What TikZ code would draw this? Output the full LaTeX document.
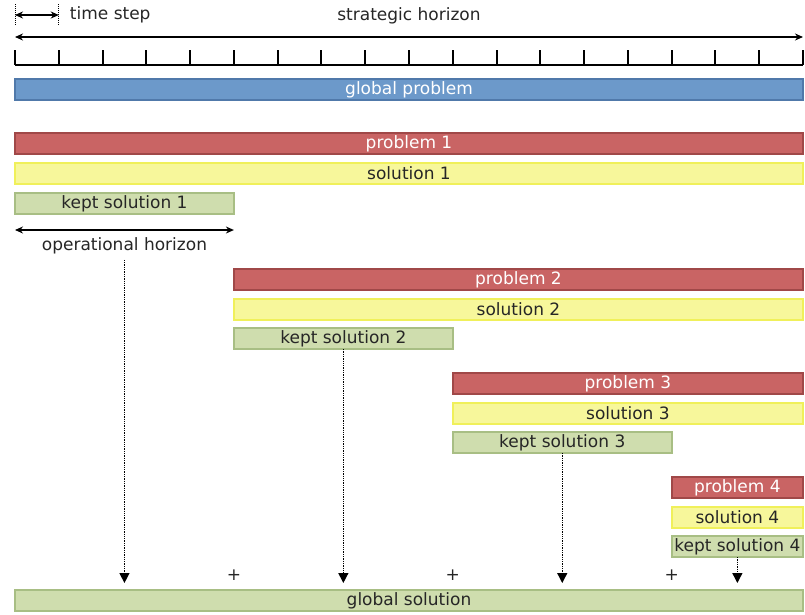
\documentclass[tikz,border=0pt]{standalone}
\usepackage{fontspec}
\setmainfont{DejaVu Sans}
\usepackage{tikz}
\usetikzlibrary{arrows.meta, positioning}
\definecolor{gpfill}{RGB}{108,153,202}
\definecolor{gpborder}{RGB}{80,121,170}
\definecolor{prfill}{RGB}{201,100,100}
\definecolor{prborder}{RGB}{160,72,72}
\definecolor{sofill}{RGB}{247,247,155}
\definecolor{soborder}{RGB}{240,240,90}
\definecolor{kefill}{RGB}{207,221,174}
\definecolor{keborder}{RGB}{168,190,132}
\def\tstep{43.78}

\begin{document}
\begin{tikzpicture}[x=1pt, y=-1pt,
  node distance=9pt,
  bar/.style={rectangle, line width=1.8pt, minimum height=21pt, inner sep=0pt, outer sep=0pt,
              font=\fontsize{17}{20}\selectfont},
  globbar/.style={bar, draw=gpborder, fill=gpfill, text=white},
  probbar/.style={bar, draw=prborder, fill=prfill, text=white},
  solbar/.style={bar, draw=soborder, fill=sofill, text=black!85},
  keptbar/.style={bar, draw=keborder, fill=kefill, text=black!85},
  lbl/.style={font=\fontsize{17}{20}\selectfont, inner sep=0pt, text=black!85},
  dim/.style={{Stealth[length=8pt,width=7pt]}-{Stealth[length=8pt,width=7pt]}, line width=1.2pt},
  feed/.style={-{Triangle[length=10pt,width=10pt]}, densely dotted, line width=1.3pt}
]
\useasboundingbox (0,0) rectangle (805,614);

% time axis
\coordinate (ts0) at (15,15);
\coordinate (ts1) at ({15+\tstep},15);
\draw[densely dotted, line width=1pt] (15,4) -- (15,26) ({15+\tstep},4) -- ({15+\tstep},26);
\draw[dim] (ts0) -- (ts1);
\node[lbl, anchor=west, right=11pt of ts1] (tsl) {time step};
\coordinate (hl) at (15,37);
\coordinate (hr) at (803,37);
\draw[dim] (hl) -- (hr);
\node[lbl] (hlbl) at (409,16) {strategic horizon};
\draw[line width=2.5pt] (15,65) -- (803,65);
\foreach \i in {0,...,18}
  \draw[line width=2pt] ({15+\i*\tstep},50) -- ({15+\i*\tstep},65);

\node[globbar, minimum width=788pt] (gp) at (409,89.5) {global problem};

% receding horizon
\node[probbar, minimum width=788pt] (p1) at (409,143.5) {problem 1};
\node[solbar, minimum width=788pt, below=of p1] (s1) {solution 1};
\node[keptbar, minimum width={5*\tstep}, anchor=north west] (k1) at ([yshift=-9pt]s1.south west) {kept solution 1};
\coordinate (oh0) at ([yshift=-16pt]k1.south west);
\coordinate (oh1) at ([yshift=-16pt]k1.south east);
\draw[dim] (oh0) -- (oh1);
\node[lbl, below=6pt of k1.south, yshift=-17pt] (ohl) {operational horizon};

\node[probbar, minimum width={13*\tstep}, anchor=north west] (p2) at ([yshift=-55pt]k1.south east) {problem 2};
\node[solbar, minimum width={13*\tstep}, below=of p2] (s2) {solution 2};
\node[keptbar, minimum width={5*\tstep}, anchor=north west] (k2) at ([yshift=-8pt]s2.south west) {kept solution 2};

\node[probbar, minimum width={8*\tstep}, anchor=north west] (p3) at ([yshift=-24pt]k2.south east) {problem 3};
\node[solbar, minimum width={8*\tstep}, below=of p3] (s3) {solution 3};
\node[keptbar, minimum width={5*\tstep}, anchor=north west] (k3) at ([yshift=-8pt]s3.south west) {kept solution 3};

\node[probbar, minimum width={3*\tstep}, anchor=north west] (p4) at ([yshift=-24pt]k3.south east) {problem 4};
\node[solbar, minimum width={3*\tstep}, below=of p4] (s4) {solution 4};
\node[keptbar, minimum width={3*\tstep}, anchor=north west] (k4) at ([yshift=-8pt]s4.south west) {kept solution 4};

\node[keptbar, minimum width=788pt] (gs) at (409,600.5) {global solution};

% assembly
\draw[feed, shorten <=6pt, shorten >=7pt] (ohl.south) -- (gs.north -| ohl.south);
\draw[feed, shorten >=7pt] (k2.south) -- (gs.north -| k2.south);
\draw[feed, shorten >=7pt] (k3.south) -- (gs.north -| k3.south);
\draw[feed, shorten >=7pt] (k4.south) -- (gs.north -| k4.south);
\foreach \j in {5,10,15}
  \node[lbl] (plus\j) at ({15+\j*\tstep},575) {+};
\end{tikzpicture}
\end{document}
